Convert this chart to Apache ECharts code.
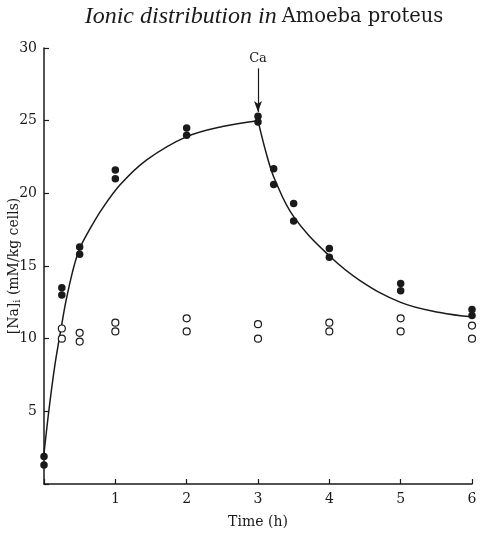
<!DOCTYPE html>
<html>
<head>
<meta charset="utf-8">
<style>
  html, body { margin: 0; padding: 0; background: #fff; }
  #chart { width: 481px; height: 533px; }
</style>
<script src="https://cdn.jsdelivr.net/npm/echarts@6/dist/echarts.min.js"></script>
</head>
<body>
<div id="chart"></div>
<script>
/* Na uptake in Amoeba proteus, with Ca added at 3 h. */
const SERIF = "'DejaVu Serif', 'Liberation Serif', serif";
const TIMES = "'Liberation Serif', serif";
const INK = "#1a1a1a";

// filled dots: [Na]i measured (two samples per time)
const naTime = [0, 0, 0.25, 0.25, 0.5, 0.5, 1, 1, 2, 2, 3, 3, 3.22, 3.22, 3.5, 3.5, 4, 4, 5, 5, 6, 6];
const naVal  = [1.9, 1.3, 13.5, 13.0, 16.3, 15.8, 21.6, 21.0, 24.5, 24.0, 25.3, 24.9, 21.7, 20.6, 19.3, 18.1, 16.2, 15.6, 13.8, 13.3, 12.0, 11.6];

// open circles: control series
const ctlTime = [0.25, 0.25, 0.5, 0.5, 1, 1, 2, 2, 3, 3, 4, 4, 5, 5, 6, 6];
const ctlVal  = [10.7, 10.0, 10.4, 9.8, 11.1, 10.5, 11.4, 10.5, 11.0, 10.0, 11.1, 10.5, 11.4, 10.5, 10.9, 10.0];

// fitted curve (rise, then decay after Ca)
const riseTime = [0, 0.05, 0.1, 0.15, 0.2, 0.25, 0.3, 0.4, 0.5, 0.65, 0.81, 1.07, 1.44, 2.0, 2.5, 3.0];
const riseVal  = [2.1, 4.3, 6.3, 8.1, 9.6, 11.0, 12.4, 14.6, 16.2, 17.6, 18.9, 20.6, 22.3, 23.9, 24.6, 25.0];
const fallTime = [3.0, 3.13, 3.24, 3.5, 4.0, 4.43, 5.0, 5.55, 6.0];
const fallVal  = [25.0, 22.5, 20.9, 18.4, 15.7, 14.0, 12.5, 11.8, 11.5];

const xTicks = ["", "1", "2", "3", "4", "5", "6"];
const yTicks = ["", "5", "10", "15", "20", "25", "30"];

const zip = (a, b) => a.map((v, i) => [v, b[i]]);

const chart = echarts.init(document.getElementById("chart"));
chart.setOption({
  animation: false,
  backgroundColor: "#fff",
  title: {
    text: "{i|Ionic distribution in} {n|Amoeba proteus}",
    left: 259, top: 0, textAlign: "center",
    textStyle: {
      fontWeight: "normal",
      rich: {
        i: { fontFamily: TIMES, fontSize: 24, fontStyle: "italic", fontWeight: "normal", color: INK },
        n: { fontFamily: SERIF, fontSize: 19.5, fontWeight: "normal", color: INK },
      },
    },
  },
  grid: { left: 44, right: 9, top: 48, bottom: 49, outerBoundsMode: "none", containLabel: false },
  xAxis: {
    type: "value", min: 0, max: 6, interval: 1,
    name: "Time (h)", nameLocation: "middle", nameGap: 31, nameMoveOverlap: false,
    nameTextStyle: { fontFamily: SERIF, fontSize: 14, color: INK },
    axisLine: { lineStyle: { color: INK, width: 1.5 } },
    axisTick: { inside: true, length: 5, lineStyle: { color: INK, width: 1.2 } },
    axisLabel: { fontFamily: SERIF, fontSize: 14, color: INK, margin: 8, formatter: (v) => xTicks[v] },
    splitLine: { show: false },
  },
  yAxis: {
    type: "value", min: 0, max: 30, interval: 5,
    name: "[Na]{sub|i} (mM/kg cells)", nameLocation: "middle", nameGap: 22, nameMoveOverlap: false,
    nameTextStyle: {
      fontFamily: SERIF, fontSize: 14, color: INK,
      rich: { sub: { fontFamily: SERIF, fontSize: 10, color: INK, verticalAlign: "bottom", padding: [6, 0, 0, 0] } },
    },
    axisLine: { show: true, lineStyle: { color: INK, width: 1.5 } },
    axisTick: { show: true, inside: true, length: 5, lineStyle: { color: INK, width: 1.2 } },
    axisLabel: { fontFamily: SERIF, fontSize: 14, color: INK, margin: 7, formatter: (v) => yTicks[v / 5] },
    splitLine: { show: false },
  },
  series: [
    {
      type: "line", data: zip(riseTime, riseVal), smooth: 0.35, symbol: "none",
      lineStyle: { color: INK, width: 1.5 }, z: 2,
    },
    {
      type: "line", data: zip(fallTime, fallVal), smooth: 0.4, symbol: "none",
      lineStyle: { color: INK, width: 1.5 }, z: 5,
      markLine: {
        silent: true, symbol: ["none", "arrow"], symbolSize: [6, 11],
        lineStyle: { color: INK, width: 1.2, type: "solid" },
        itemStyle: { color: INK },
        label: { show: true, position: "start", formatter: "Ca", fontFamily: SERIF, fontSize: 13, color: INK, distance: 3 },
        data: [[{ coord: [3, 28.6] }, { coord: [3, 25.6] }]],
      },
    },
    {
      type: "scatter", data: zip(ctlTime, ctlVal), symbol: "circle", symbolSize: 7,
      itemStyle: { color: "#fff", borderColor: INK, borderWidth: 1.2, opacity: 1 }, z: 3,
    },
    {
      type: "scatter", data: zip(naTime, naVal), symbol: "circle", symbolSize: 7.5,
      itemStyle: { color: INK, opacity: 1 }, z: 4,
    },
  ],
});
</script>
</body>
</html>
